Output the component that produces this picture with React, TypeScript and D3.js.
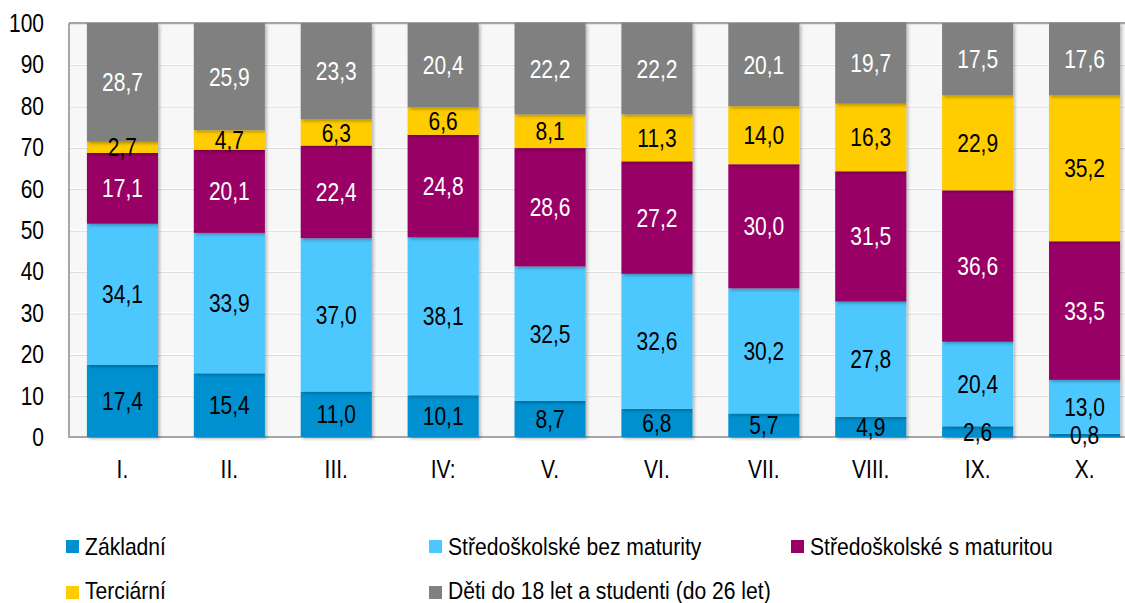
import React, { useRef, useEffect } from "react";
import * as d3 from "d3";

const categories = ["I.", "II.", "III.", "IV:", "V.", "VI.", "VII.", "VIII.", "IX.", "X."];
const seriesNames = [
  "Základní",
  "Středoškolské bez maturity",
  "Středoškolské s maturitou",
  "Terciární",
  "Děti do 18 let a studenti (do 26 let)",
];
const zakladni = [17.4, 15.4, 11.0, 10.1, 8.7, 6.8, 5.7, 4.9, 2.6, 0.8];
const bezMaturity = [34.1, 33.9, 37.0, 38.1, 32.5, 32.6, 30.2, 27.8, 20.4, 13.0];
const sMaturitou = [17.1, 20.1, 22.4, 24.8, 28.6, 27.2, 30.0, 31.5, 36.6, 33.5];
const terciarni = [2.7, 4.7, 6.3, 6.6, 8.1, 11.3, 14.0, 16.3, 22.9, 35.2];
const deti = [28.7, 25.9, 23.3, 20.4, 22.2, 22.2, 20.1, 19.7, 17.5, 17.6];
const colors = ["#0090d0", "#4dc8ff", "#990066", "#ffcc00", "#808080"];
const labelColors = ["#000", "#000", "#fff", "#000", "#fff"];
const yTicks = [0, 10, 20, 30, 40, 50, 60, 70, 80, 90, 100];

const App = () => {
  const ref = useRef<SVGSVGElement>(null);

  useEffect(() => {
    const svg = d3.select(ref.current);
    svg.selectAll("*").remove();
    const font = "'Liberation Sans', Arial, sans-serif";
    const narrow = 0.84; // fake Arial Narrow

    // narrow text helper
    const label = (g: any, tx: number, ty: number, txt: string, anchor: string, size: number, fill: string, sx = narrow) =>
      g.append("text")
        .attr("transform", `translate(${tx},${ty}) scale(${sx},1)`)
        .attr("dy", "0.36em")
        .attr("text-anchor", anchor)
        .attr("font-family", font)
        .attr("font-size", size)
        .attr("fill", fill)
        .text(txt);

    const left = 69, top = 23, bottom = 437;
    const x = d3.scaleBand<string>().domain(categories).range([left, left + 1069]).paddingInner(0.335).paddingOuter(0.1675);
    const y = d3.scaleLinear().domain([0, 100]).range([bottom, top]);

    const defs = svg.append("defs");
    const f = defs.append("filter").attr("id", "sh").attr("x", "-10%").attr("y", "-10%").attr("width", "130%").attr("height", "130%");
    f.append("feDropShadow").attr("dx", 2).attr("dy", 2).attr("stdDeviation", 1.5).attr("flood-color", "#000").attr("flood-opacity", 0.25);

    // plot background
    svg.append("rect").attr("x", left).attr("y", top).attr("width", 1125 - left).attr("height", bottom - top).attr("fill", "#f7f7f7");

    // gridlines
    const g = svg.append("g");
    yTicks.slice(1).forEach((t) => {
      g.append("line").attr("x1", left).attr("x2", 1125).attr("y1", y(t) + 1).attr("y2", y(t) + 1).attr("stroke", "#d0d0d0").attr("stroke-width", 1);
      g.append("line").attr("x1", left).attr("x2", 1125).attr("y1", y(t)).attr("y2", y(t)).attr("stroke", "#ffffff").attr("stroke-width", 1.5);
    });
    svg.append("path")
      .attr("d", `M${left},${top}H1125M${left},${top}V${bottom}H1125`)
      .attr("fill", "none").attr("stroke", "#a6a6a6").attr("stroke-width", 2);

    const data = categories.map((c, i) => ({
      cat: c,
      s0: zakladni[i], s1: bezMaturity[i], s2: sMaturitou[i], s3: terciarni[i], s4: deti[i],
    }));
    const stack = d3.stack<any>().keys(["s0", "s1", "s2", "s3", "s4"])(data);

    const bars = svg.append("g");
    stack.forEach((layer, k) => {
      bars.selectAll(null).data(layer).enter().append("rect")
        .attr("x", (d: any) => x(d.data.cat)!)
        .attr("y", (d) => y(d[1]))
        .attr("width", x.bandwidth())
        .attr("height", (d) => y(d[0]) - y(d[1]))
        .attr("fill", colors[k])
        .attr("filter", "url(#sh)");
    });
    const lab = svg.append("g");
    stack.forEach((layer, k) => {
      layer.forEach((d: any) => {
        label(lab, x(d.data.cat)! + x.bandwidth() / 2, (y(d[0]) + y(d[1])) / 2, d3.format(".1f")(d[1] - d[0]).replace(".", ","), "middle", 25, labelColors[k]);
      });
    });

    // y axis labels
    const ya = svg.append("g");
    yTicks.forEach((t) => label(ya, 44, y(t), String(t), "end", 25, "#000"));

    // x axis labels
    const xa = svg.append("g");
    categories.forEach((c) => label(xa, x(c)! + x.bandwidth() / 2, 469, c, "middle", 25, "#000"));

    // legend
    const legPos = [[66, 546], [429, 546], [791, 546], [66, 590], [429, 590]];
    const leg = svg.append("g");
    seriesNames.forEach((name, i) => {
      const [lx, ly] = legPos[i];
      leg.append("rect").attr("x", lx).attr("y", ly - 6 + (i > 2 ? 2 : 0)).attr("width", 13).attr("height", 13).attr("fill", colors[i]);
      label(leg, lx + 19, ly, name, "start", 24, "#000", 0.88);
    });
  }, []);

  return (
    <svg ref={ref} width={1125} height={603} style={{ position: "absolute", left: 0, top: 0, background: "#fff" }} />
  );
};

export default App;
